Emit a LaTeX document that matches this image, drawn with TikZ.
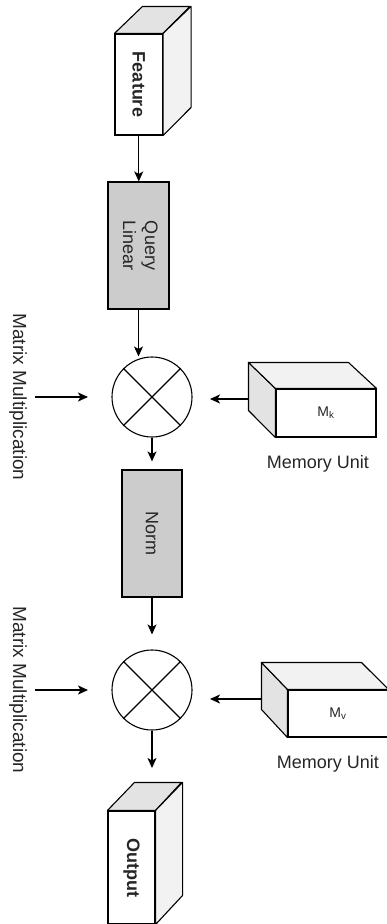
\documentclass[tikz,border=0pt]{standalone}
\usepackage{fontspec}
\setmainfont{Liberation Sans}
\usepackage{graphicx}
\usetikzlibrary{arrows.meta}
\definecolor{boxgray}{HTML}{CCCCCC}
\definecolor{topgray}{HTML}{E3E3E3}
\definecolor{sidegray}{HTML}{F2F2F2}
\begin{document}
\begin{tikzpicture}[x=1pt,y=-1pt,
    every node/.style={font=\fontsize{18}{22}\selectfont,text=black!85},
    arr/.style={draw,line width=1.1pt,-{Stealth[length=10pt,width=9pt,inset=2.5pt]}},
    front/.style={draw,line width=1.1pt,fill=white,inner sep=0pt},
    greybox/.style={draw,line width=1.1pt,fill=boxgray,inner sep=0pt},
    mult/.style={draw,circle,line width=1.1pt,minimum size=80pt,inner sep=0pt},
    face/.style={draw,line width=1.1pt,line join=round}]
    \useasboundingbox (0,0) rectangle (387,924);
    % feature cube
    \node[front,minimum width=47.5pt,minimum height=101pt] (feature) at (138.75,84.5) {\rotatebox{-90}{\textbf{Feature}}};
    \draw[face,fill=topgray] (feature.north west) -- ++(28,-27) -- ++(47.5,0) -- (feature.north east) -- cycle;
    \draw[face,fill=sidegray] (feature.north east) -- ++(28,-27) -- ++(0,101) -- (feature.south east) -- cycle;
    \node[greybox,minimum width=61pt,minimum height=127pt] (query) at (138.5,245.5) {\rotatebox{-90}{\begin{tabular}{@{}c@{}}Query\\Linear\end{tabular}}};
    \node[mult] (mul1) at (152,397) {};
    \draw[line width=1.1pt] (mul1.north west) -- (mul1.south east) (mul1.north east) -- (mul1.south west);
    \node[greybox,minimum width=60pt,minimum height=127pt] (norm) at (152,533.5) {\rotatebox{-90}{Norm}};
    \node[mult] (mul2) at (152,690) {};
    \draw[line width=1.1pt] (mul2.north west) -- (mul2.south east) (mul2.north east) -- (mul2.south west);
    % memory cubes
    \node[front,minimum width=100pt,minimum height=48pt,font=\fontsize{14}{16}\selectfont] (mk) at (326,413) {M\textsubscript{k}};
    \draw[face,fill=topgray] (mk.north west) -- ++(-27,-26) -- ++(0,48) -- (mk.south west) -- cycle;
    \draw[face,fill=sidegray] (mk.north west) -- ++(-27,-26) -- ++(100,0) -- (mk.north east) -- cycle;
    \node[front,minimum width=100pt,minimum height=47pt,font=\fontsize{14}{16}\selectfont] (mv) at (338,713.5) {M\textsubscript{v}};
    \draw[face,fill=topgray] (mv.north west) -- ++(-26,-27) -- ++(0,47) -- (mv.south west) -- cycle;
    \draw[face,fill=sidegray] (mv.north west) -- ++(-26,-27) -- ++(100,0) -- (mv.north east) -- cycle;
    % output cube
    \node[front,minimum width=47pt,minimum height=113pt] (out) at (131.5,867.5) {\rotatebox{-90}{\textbf{Output}}};
    \draw[face,fill=topgray] (out.north west) -- ++(27,-28) -- ++(47,0) -- (out.north east) -- cycle;
    \draw[face,fill=sidegray] (out.north east) -- ++(27,-28) -- ++(0,113) -- (out.south east) -- cycle;
    % labels
    \node[font=\fontsize{19}{22}\selectfont] (mm1) at (18,397) {\rotatebox{-90}{Matrix Multiplication}};
    \node[font=\fontsize{19}{22}\selectfont] (mm2) at (18,690) {\rotatebox{-90}{Matrix Multiplication}};
    \node (mu1) at (318,464) {Memory Unit};
    \node (mu2) at (328,764) {Memory Unit};
    \coordinate (in1) at (35,397);
    \coordinate (in1e) at (88,397);
    \coordinate (in2) at (35,690);
    \coordinate (in2e) at (88,690);
    \coordinate (mkside) at ([shift={(-27,-14)}]mk.west);
    \coordinate (mkin) at (210,399);
    \coordinate (mvside) at ([shift={(-26,-14.5)}]mv.west);
    \coordinate (mvin) at (210,699);
    \coordinate (outin) at (152,768);
    % arrows
    \draw[arr] (feature.south) -- (feature.south |- query.north);
    \draw[arr] (query.south) -- (query.south |- mul1.north);
    \draw[arr] (mul1.south) -- ([yshift=8pt]norm.north);
    \draw[arr] (norm.south) -- ([yshift=15pt]mul2.north);
    \draw[arr] (mul2.south) -- (outin);
    \draw[arr] (in1) -- (in1e);
    \draw[arr] (in2) -- (in2e);
    \draw[arr] (mkside) -- (mkin);
    \draw[arr] (mvside) -- (mvin);
\end{tikzpicture}
\end{document}
